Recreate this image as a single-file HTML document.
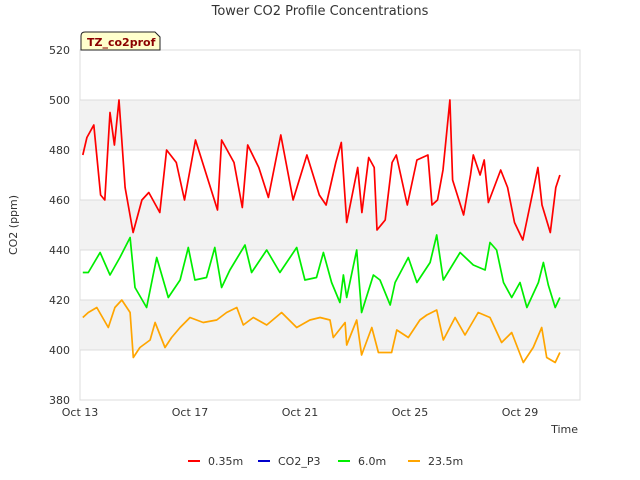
<!DOCTYPE html>
<html><head><meta charset="utf-8"><style>
body{margin:0;background:#fff;font-family:"Liberation Sans","DejaVu Sans",sans-serif;}
svg{display:block}
</style></head><body>
<svg width="640" height="480" id="chart" font-family="DejaVu Sans, Liberation Sans, sans-serif">
<text x="320" y="15" text-anchor="middle" font-size="13" fill="#333">Tower CO2 Profile Concentrations</text>
<rect x="80" y="50" width="500" height="350" fill="#fff" stroke="#ddd"/>
<g id="bands"></g><g id="grid"></g><g id="ticks"></g><g id="series"></g>
<text x="17" y="225" transform="rotate(-90 17 225)" text-anchor="middle" font-size="11" fill="#333">CO2 (ppm)</text>
<text x="578" y="433" text-anchor="end" font-size="11" fill="#333">Time</text>
<g>
<path d="M81,50 L81,36 Q81,32 85,32 L155,32 L160,37 L160,50 Z" fill="#ffffcc" stroke="#222"/>
<text x="87" y="46" font-size="11" font-weight="bold" fill="#8b0000">TZ_co2prof</text>
</g>
<g id="legend"></g>
</svg>
<script>
const yTicks=[380,400,420,440,460,480,500,520];
const xTickLabels=["Oct 13","Oct 17","Oct 21","Oct 25","Oct 29"];
const xTickDays=[0,4,8,12,16];
const seriesNames=["0.35m","CO2_P3","6.0m","23.5m"];
const seriesColors=["#ff0000","#0000cc","#00ee00","#ffa500"];
const redT=[0.1,0.25,0.5,0.75,0.9,1.09,1.25,1.42,1.64,1.93,2.25,2.5,2.9,3.15,3.5,3.8,4.2,4.6,5.0,5.15,5.6,5.9,6.1,6.5,6.85,7.3,7.75,8.25,8.7,8.95,9.3,9.5,9.7,10.1,10.25,10.5,10.7,10.8,11.1,11.35,11.5,11.9,12.25,12.65,12.8,13.0,13.2,13.45,13.55,13.95,14.2,14.3,14.55,14.7,14.85,15.3,15.55,15.8,16.1,16.35,16.65,16.8,17.1,17.3,17.45];
const redV=[478,485,490,462,460,495,482,500,465,447,460,463,455,480,475,460,484,470,456,484,475,457,482,473,461,486,460,478,462,458,475,483,451,473,455,477,473,448,452,475,478,458,476,478,458,460,472,500,468,454,470,478,470,476,459,472,465,451,444,457,473,458,447,465,470];
const p3T=[];const p3V=[];
const greenT=[0.1,0.3,0.73,1.09,1.45,1.82,2.0,2.42,2.79,3.21,3.64,3.94,4.18,4.6,4.9,5.15,5.45,6.0,6.24,6.79,7.27,7.88,8.18,8.6,8.85,9.15,9.45,9.58,9.7,10.06,10.24,10.67,10.91,11.28,11.46,11.94,12.25,12.73,12.97,13.21,13.82,14.3,14.73,14.91,15.15,15.4,15.7,16.0,16.25,16.67,16.85,17.03,17.28,17.45];
const greenV=[431,431,439,430,437,445,425,417,437,421,428,441,428,429,441,425,432,442,431,440,431,441,428,429,439,427,419,430,421,440,415,430,428,418,427,437,427,435,446,428,439,434,432,443,440,427,421,427,417,427,435,426,417,421];
const orangeT=[0.1,0.3,0.61,1.03,1.27,1.52,1.82,1.94,2.18,2.55,2.73,3.09,3.33,3.64,4.0,4.48,4.97,5.33,5.7,5.94,6.3,6.79,7.33,7.88,8.36,8.73,9.09,9.21,9.64,9.7,10.06,10.24,10.61,10.85,11.33,11.52,11.94,12.36,12.61,12.97,13.21,13.64,14.0,14.48,14.91,15.33,15.7,16.12,16.48,16.79,16.97,17.28,17.45];
const orangeV=[413,415,417,409,417,420,415,397,401,404,411,401,405,409,413,411,412,415,417,410,413,410,415,409,412,413,412,405,411,402,412,398,409,399,399,408,405,412,414,416,404,413,406,415,413,403,407,395,401,409,397,395,399];

const NS="http://www.w3.org/2000/svg";
const X0=80,X1=580,Y0=50,Y1=400,tMin=0,tMax=500/27.5;
const xs=t=>X0+(t-tMin)/(tMax-tMin)*(X1-X0);
const ys=v=>Y1-(v-380)/(520-380)*(Y1-Y0);
function mk(tag,attrs,parent){const e=document.createElementNS(NS,tag);for(const k in attrs)e.setAttribute(k,attrs[k]);parent.appendChild(e);return e;}
const bands=document.getElementById('bands'),grid=document.getElementById('grid'),ticks=document.getElementById('ticks'),ser=document.getElementById('series'),leg=document.getElementById('legend');
for(let i=0;i<yTicks.length-1;i++){
  if(i%2===1){const r=mk('rect',{x:X0,y:ys(yTicks[i+1]),width:X1-X0,height:ys(yTicks[i])-ys(yTicks[i+1]),fill:'#f2f2f2'},bands);
  
  }
}
yTicks.forEach(v=>{
  const l=mk('line',{x1:X0,x2:X1,y1:ys(v),y2:ys(v),stroke:'#dcdcdc'},grid);
  
  
  const t=mk('text',{x:X0-10,y:ys(v)+4,'text-anchor':'end','font-size':11,fill:'#333'},ticks);
  t.textContent=v;
  
  
});
xTickDays.forEach((d,i)=>{
  const t=mk('text',{x:xs(d),y:416,'text-anchor':'middle','font-size':11,fill:'#333'},ticks);
  t.textContent=xTickLabels[i];
  
  
});
const all=[[redT,redV],[p3T,p3V],[greenT,greenV],[orangeT,orangeV]];
all.forEach((s,i)=>{
  if(!s[0].length)return;
  const d=s[0].map((t,j)=>(j?'L':'M')+xs(t).toFixed(1)+','+ys(s[1][j]).toFixed(1)).join(' ');
  const p=mk('path',{d:d,fill:'none',stroke:seriesColors[i],'stroke-width':1.7,'stroke-linejoin':'round'},ser);
  
  
});
const lx=[188,258,338,408];
seriesNames.forEach((n,i)=>{
  const g=mk('g',{},leg);
  
  
  mk('line',{x1:lx[i],x2:lx[i]+12,y1:461,y2:461,stroke:seriesColors[i],'stroke-width':2},g);
  const t=mk('text',{x:lx[i]+20,y:465,'font-size':11,fill:'#333'},g);
  t.textContent=n;
});
</script>
</body></html>
